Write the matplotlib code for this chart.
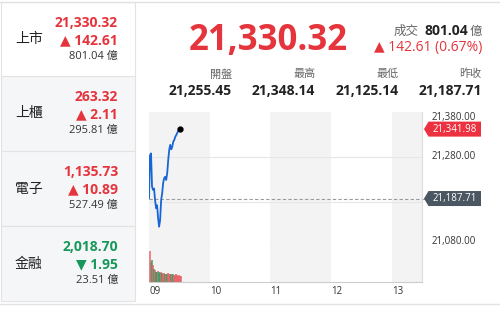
import numpy as np
import matplotlib
matplotlib.use("Agg")
import matplotlib.pyplot as plt
from matplotlib.patches import Rectangle, Polygon

plt.rcParams['font.family'] = ['Open Sans', 'DejaVu Sans', 'Noto Sans CJK TC']

W, H = 500, 311
RED = "#e5343c"
GREEN = "#17985a"
DARK = "#222222"
GREY = "#666666"

# left panel: market summaries
markets = ["上市", "上櫃", "電子", "金融"]
mkt_index = ["21,330.32", "263.32", "1,135.73", "2,018.70"]
mkt_change = [142.61, 2.11, 10.89, -1.95]
mkt_amount = ["801.04", "295.81", "527.49", "23.51"]

# header
last_text = "21,330.32"
turnover = "801.04"
change_text = "142.61 (0.67%)"
ohlc_labels = ["開盤", "最高", "最低", "昨收"]
ohlc_values = ["21,255.45", "21,348.14", "21,125.14", "21,187.71"]

# intraday data, minutes after 09:00
minutes = [0, 1, 2, 3, 4, 5, 6, 7, 8, 9, 10, 11, 12, 13, 14, 15,
           16, 17, 18, 19, 20, 21, 22, 23, 24, 25, 26, 27, 28, 29, 30, 31]
prices = [21188, 21284, 21288, 21214, 21207, 21210, 21184, 21166,
          21173, 21144, 21125, 21140, 21184, 21199, 21222, 21233,
          21236, 21229, 21244, 21273, 21296, 21307, 21297, 21303,
          21314, 21318, 21325, 21329, 21334, 21338, 21340, 21341.98]
volumes = [62, 40, 44, 34, 27, 24, 21, 20, 22, 20, 18, 20, 18, 17, 18, 17,
           17, 16, 18, 17, 16, 17, 15, 16, 15, 14, 16, 14, 13, 14, 12, 12]
vol_up = [1, 1, 0, 1, 0, 1, 0, 0, 1, 0, 0, 1, 0, 1, 1, 0,
          1, 0, 1, 1, 1, 0, 1, 0, 1, 1, 1, 1, 1, 1, 1, 1]
prev_close = 21187.71
last_price = 21341.98
y_ticks = [21380, 21280, 21080]
x_ticks = [0, 60, 120, 180, 240]
x_labels = ["09", "10", "11", "12", "13"]


def fx(px):
    return px / W


def fy(py):
    return 1 - py / H


fig = plt.figure(figsize=(W / 100, H / 100), dpi=100)
fig.patch.set_facecolor("white")

# frame lines
fig.add_artist(plt.Line2D([0, 1], [fy(2), fy(2)], color="#e2e2e2", lw=1))
fig.add_artist(plt.Line2D([0, 1], [fy(303.5), fy(303.5)], color="#e2e2e2", lw=1))

# left panel rows
row_top = [2, 76, 151, 226]
row_h = 75
for i, name in enumerate(markets):
    top = row_top[i]
    fc = "white" if i == 0 else "#f5f6f8"
    fig.add_artist(Rectangle((fx(1), fy(top + row_h)), fx(134), row_h / H,
                             facecolor=fc, edgecolor="#e3e3e3", lw=0.8))
    yc = top + 38
    col = RED if mkt_change[i] >= 0 else GREEN
    arrow = "▲" if mkt_change[i] >= 0 else "▼"
    fig.text(fx(15), fy(yc), name, fontsize=10, color=DARK, va="center")
    fig.text(fx(118), fy(yc - 17), mkt_index[i], fontsize=10, weight="bold",
             color=col, ha="right", va="center")
    fig.text(fx(118), fy(yc), f"{arrow} {abs(mkt_change[i]):.2f}", fontsize=10,
             weight="bold", color=col, ha="right", va="center")
    fig.text(fx(118), fy(yc + 16), mkt_amount[i] + " 億", fontsize=8,
             color="#333333", ha="right", va="center")

# header
fig.text(fx(268), fy(41), last_text, fontsize=25, weight="bold", color=RED,
         ha="center", va="center")
fig.text(fx(419), fy(31), "成交", fontsize=9, color=GREY, ha="right", va="center")
fig.text(fx(468), fy(31), turnover, fontsize=10, weight="bold", color=DARK,
         ha="right", va="center")
fig.text(fx(482), fy(31), "億", fontsize=9, color=GREY, ha="right", va="center")
fig.text(fx(482), fy(48), "▲ " + change_text, fontsize=10, color=RED,
         ha="right", va="center")
for i, (lab, val) in enumerate(zip(ohlc_labels, ohlc_values)):
    xr = 232 + i * 83.3
    fig.text(fx(xr), fy(75), lab, fontsize=8, color=GREY, ha="right", va="center")
    fig.text(fx(xr), fy(91), val, fontsize=10, weight="bold", color=DARK,
             ha="right", va="center")

# chart axes
x0, x1 = 149, 422
ax = fig.add_axes([fx(x0), fy(247), (x1 - x0) / W, 135 / H])
vax = fig.add_axes([fx(x0), fy(282), (x1 - x0) / W, 35 / H])

for a in (ax, vax):
    a.set_xlim(0, 270)
    for s in (0, 120, 240):
        a.axvspan(s, min(s + 60, 270), color="#f3f3f3", zorder=0, lw=0)
    for sp in ("top", "left"):
        a.spines[sp].set_visible(False)
    a.spines["right"].set_color("#dddddd")
    a.spines["bottom"].set_color("#e4e4e4")
    a.tick_params(length=0)
    a.set_yticks([])

ax.set_ylim(21080, 21380)
ax.set_xticks([])
for v in (21280, 21180):
    ax.axhline(v, color="#e6e6e6", lw=0.8, zorder=1)
ax.axhline(prev_close, xmax=1.01, color="#999999", lw=0.8, ls=(0, (3, 2)),
           zorder=2, clip_on=False)
ax.plot(minutes, prices, color="#1766d6", lw=1.3, zorder=3)
ax.plot(minutes[-1], last_price, "o", color="black", ms=3.5, zorder=4, clip_on=False)

yt = ax.get_yaxis_transform()
for v in y_ticks:
    va = "top" if v == y_ticks[0] else ("bottom" if v == y_ticks[-1] else "center")
    ax.text(1.0366, v, f"{v:,.2f}", transform=yt, fontsize=7, color="#333333",
            ha="left", va=va)

# price tags
for val, col in ((last_price, "#ec3140"), (prev_close, "#4b5663")):
    yc = H - ax.transData.transform((0, val))[1]
    pts = [(424, yc), (428.5, yc - 7.5), (481, yc - 7.5), (481, yc + 7.5), (428.5, yc + 7.5)]
    fig.add_artist(Polygon([(fx(px), fy(py)) for px, py in pts], closed=True,
                           facecolor=col, edgecolor="none"))
    fig.text(fx(455), fy(yc), f"{val:,.2f}", fontsize=7, color="white",
             ha="center", va="center")

# volume
vax.spines["bottom"].set_color("#cccccc")
vax.set_ylim(0, max(volumes) * 35 / 31)
vcols = ["#e8585f" if u else "#1f9a5b" for u in vol_up]
vax.bar(minutes, volumes, width=1.6, align="edge", color=vcols, alpha=0.7, zorder=2, lw=0)
vax.set_xticks(x_ticks)
vax.set_xticklabels(x_labels, fontsize=7, color="#333333")
for lbl in vax.get_xticklabels():
    lbl.set_ha("left")
vax.tick_params(axis="x", pad=3)

fig.savefig("out.png", dpi=100)
